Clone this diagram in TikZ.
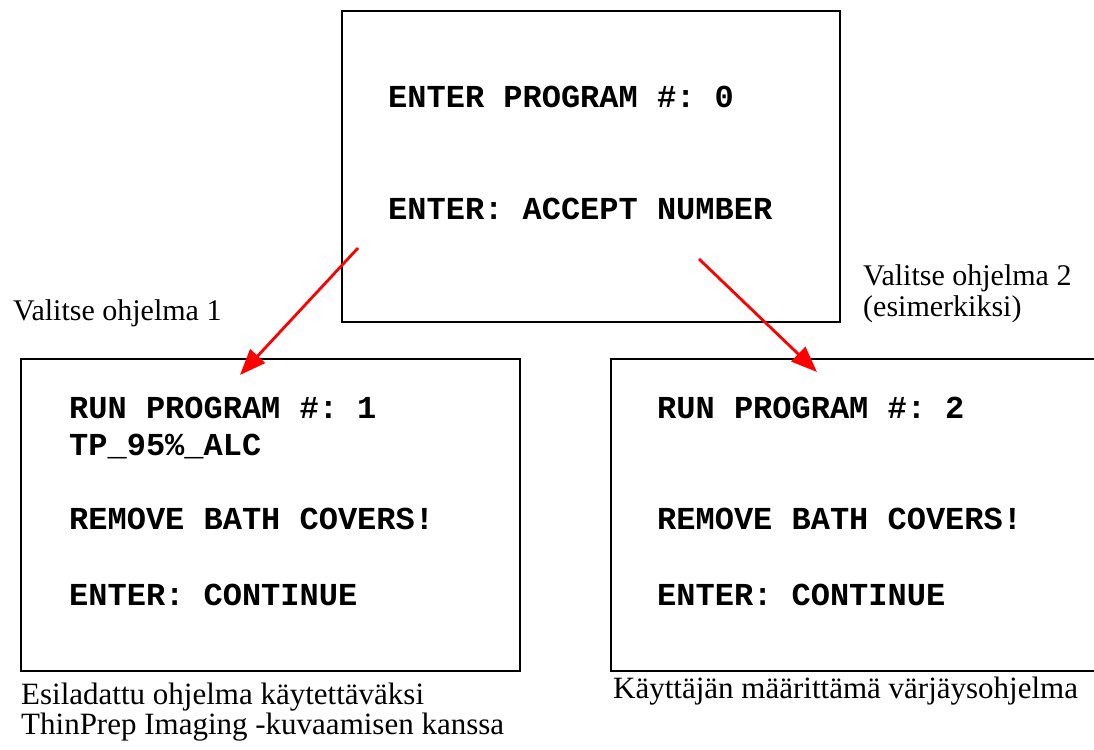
\documentclass[tikz,border=0pt]{standalone}
\usepackage{fontspec}
\setmainfont{Liberation Serif}
\setmonofont{Liberation Mono}
\usepackage{tikz}
\usetikzlibrary{arrows.meta,positioning}

\begin{document}
\begin{tikzpicture}[
  x=1pt, y=-1pt,
  screen/.style={draw, line width=2.3pt, minimum width=499pt,
                 minimum height=312pt, inner sep=0pt},
  disp/.style={anchor=base west, inner sep=0pt,
               font=\ttfamily\bfseries\fontsize{32}{36}\selectfont},
  note/.style={anchor=base west, inner sep=0pt,
               font=\fontsize{30}{34}\selectfont},
  capt/.style={note, font=\fontsize{31}{35}\selectfont},
  arr/.style={-{Triangle[length=26pt, width=20pt]}, line width=2.8pt, red}
]
  \useasboundingbox (0,0) rectangle (1094,749);
  \clip (0,0) rectangle (1094,749);

  % screens
  \node[screen, minimum width=498pt, minimum height=311pt] (top) at (591,166.5) {};
  \node[screen] (left)  at (270.5,515) {};
  \node[screen] (right) at (860.5,515) {};

  % top screen text
  \node[disp] (t1) at (388,107) {ENTER PROGRAM \#: 0};
  \node[disp] (t2) at (388,219) {ENTER: ACCEPT NUMBER};

  % left screen text
  \node[disp] (l1) at (69,418) {RUN PROGRAM \#: 1};
  \node[disp] (l2) at (69,455) {TP\_95\%\_ALC};
  \node[disp] (l3) at (69,529) {REMOVE BATH COVERS!};
  \node[disp] (l4) at (69,605) {ENTER: CONTINUE};

  % right screen text
  \node[disp] (r1) at (657,418) {RUN PROGRAM \#: 2};
  \node[disp] (r3) at (657,529) {REMOVE BATH COVERS!};
  \node[disp] (r4) at (657,605) {ENTER: CONTINUE};

  % notes
  \node[note] (sel1)  at (13,320)  {Valitse ohjelma 1};
  \node[note] (sel2)  at (863,285) {Valitse ohjelma 2};
  \node[note] (sel2b) at (863,316) {(esimerkiksi)};
  \node[capt] (cap1)  at (21,704)  {Esiladattu ohjelma käytettäväksi};
  \node[capt] (cap1b) at (21,734)  {ThinPrep Imaging -kuvaamisen kanssa};
  \node[capt] (cap2)  at (613,698) {Käyttäjän määrittämä värjäysohjelma};

  % arrows
  \coordinate (a1s) at (358,248);
  \coordinate (a1e) at (240,375);
  \coordinate (a2s) at (699,259);
  \coordinate (a2e) at (817,372);
  \draw[arr] (a1s) -- (a1e);
  \draw[arr] (a2s) -- (a2e);
\end{tikzpicture}
\end{document}
